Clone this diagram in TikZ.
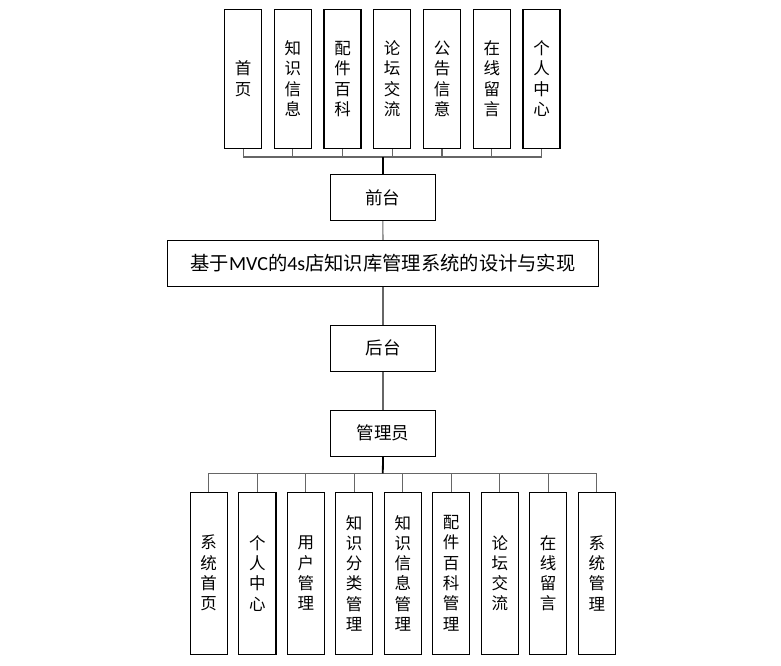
\documentclass[tikz,border=0pt]{standalone}
\usepackage{fontspec}
\setmainfont{Noto Sans CJK SC}
\newfontfamily\latinfont{Carlito}
\begin{document}
\begin{tikzpicture}[x=1pt,y=1pt,
  boxst/.style={draw=black,line width=1.1pt,inner sep=0pt,align=center,fill=white},
  vbox/.style={boxst,minimum width=37pt,minimum height=139pt,font=\fontsize{16.5}{20.5}\selectfont},
  bbox/.style={boxst,minimum width=37.3pt,minimum height=161.7pt,font=\fontsize{16.5}{20.3}\selectfont},
  hbox/.style={boxst,minimum width=104.5pt,minimum height=46.2pt,font=\fontsize{17.5}{20}\selectfont},
  link/.style={draw=black!60,line width=1.1pt},
  trunk/.style={draw=black,line width=1.8pt}]
\useasboundingbox (0,0) rectangle (781,-665);
% top row
\node[vbox] (t1) at (243.2,-78.8) {首\\页};
\node[vbox] (t2) at (292.8,-78.8) {知\\识\\信\\息};
\node[vbox] (t3) at (342.5,-78.8) {配\\件\\百\\科};
\node[vbox] (t4) at (392.2,-78.8) {论\\坛\\交\\流};
\node[vbox] (t5) at (442.0,-78.8) {公\\告\\信\\意};
\node[vbox] (t6) at (491.8,-78.8) {在\\线\\留\\言};
\node[vbox] (t7) at (541.5,-78.8) {个\\人\\中\\心};
\coordinate (tb) at (382.8,-157);
\node[hbox] (front) at (382.8,-197.5) {前台};
\node[boxst,minimum width=431.4pt,minimum height=46pt] (title) at (383,-263.3)
  {\fontsize{19.3}{20}\selectfont 基于{\latinfont\fontsize{20}{20}\selectfont MVC}的{\latinfont\fontsize{20}{20}\selectfont 4s}店知识库管理系统的设计与实现};
\node[hbox] (back) at (383,-348.3) {后台};
\node[hbox] (admin) at (383,-433.2) {管理员};
\coordinate (bb) at (382.8,-473.3);
% bottom row
\node[bbox] (b1) at (208.7,-573.2) {系\\统\\首\\页};
\node[bbox] (b2) at (257.3,-573.2) {个\\人\\中\\心};
\node[bbox] (b3) at (305.8,-573.2) {用\\户\\管\\理};
\node[bbox] (b4) at (354.2,-573.2) {知\\识\\分\\类\\管\\理};
\node[bbox] (b5) at (402.8,-573.2) {知\\识\\信\\息\\管\\理};
\node[bbox] (b6) at (451.2,-573.2) {配\\件\\百\\科\\管\\理};
\node[bbox] (b7) at (499.8,-573.2) {论\\坛\\交\\流};
\node[bbox] (b8) at (548.2,-573.2) {在\\线\\留\\言};
\node[bbox] (b9) at (596.8,-573.2) {系\\统\\管\\理};
% connectors
\foreach \i in {1,...,7} {\draw[link] (t\i.south) |- (tb);}
\draw[trunk] (front.north) -- (tb);
\draw[link] (front.south) -- (title.north);
\draw[link] (title.south) -- (back.north);
\draw[link] (back.south) -- (admin.north);
\foreach \i in {1,...,9} {\draw[link] (b\i.north) |- (bb);}
\draw[trunk] (admin.south) -- (bb);
\end{tikzpicture}
\end{document}
